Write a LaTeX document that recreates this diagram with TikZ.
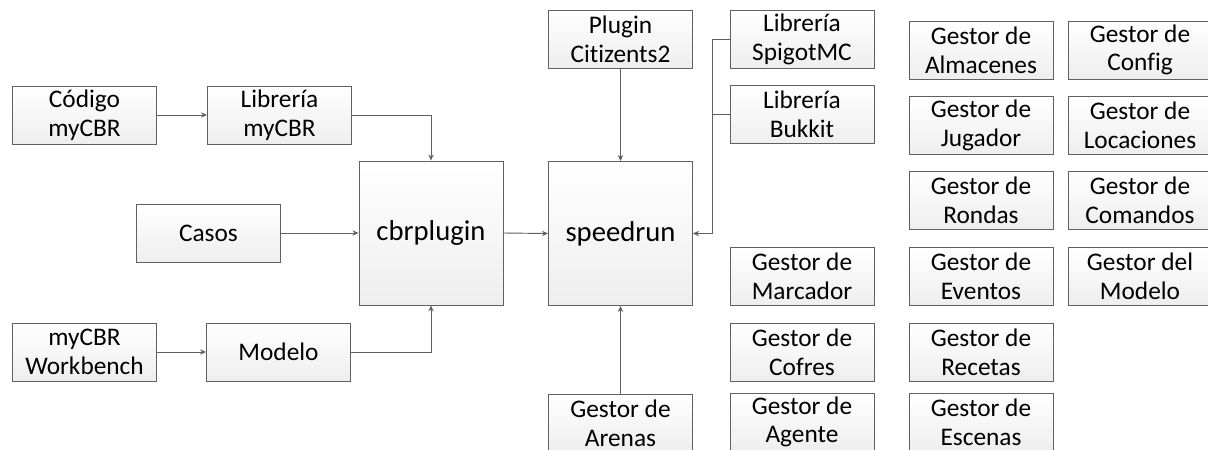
\documentclass[tikz,border=0pt]{standalone}
\usepackage{fontspec}
\setmainfont[Ligatures=NoCommon]{Carlito}
\usetikzlibrary{arrows.meta,shadows}
\definecolor{edge}{HTML}{606060}
\definecolor{boxbot}{HTML}{EEEEEE}
\tikzset{
  box/.style={draw=edge, line width=0.7pt, top color=white, bottom color=boxbot,
    minimum width=108pt, minimum height=43.5pt, inner sep=0pt, align=center,
    font=\fontsize{19}{21.5}\selectfont,
    drop shadow={shadow xshift=0.7pt, shadow yshift=-0.7pt, opacity=0.15, fill=black}},
  bigbox/.style={box, minimum width=108pt, minimum height=108pt, font=\fontsize{21.5}{25}\selectfont},
  arr/.style={draw=edge, line width=0.7pt, -{Stealth[length=4.5pt,width=4pt]}},
  ln/.style={draw=edge, line width=0.7pt}
}
\begin{document}
\begin{tikzpicture}[x=0.75pt,y=-0.75pt]
\useasboundingbox (0,0) rectangle (1208,450);
\clip (0,0) rectangle (1208,450);
\fill[white] (0,0) rectangle (1208,450);
% left part
\node[box] (cod) at (84.5,115) {Código\\myCBR};
\node[box] (libmy) at (279.5,115) {Librería\\myCBR};
\node[box] (casos) at (208.5,233) {Casos};
\node[box] (wb) at (84.5,352) {myCBR\\Workbench};
\node[box] (modelo) at (278.5,352) {Modelo};
\node[bigbox] (cbr) at (431,233) {cbrplugin};
\node[bigbox] (speed) at (620.5,233.5) {speedrun};
\node[box] (citiz) at (620.5,39) {Plugin\\Citizents2};
\node[box] (spigot) at (802,39.5) {Librería\\SpigotMC};
\node[box] (bukkit) at (802,114.5) {Librería\\Bukkit};
\node[box] (arenas) at (620.5,423) {Gestor de\\Arenas};
% managers
\node[box] (marcador) at (802,276.5) {Gestor de\\Marcador};
\node[box] (cofres) at (802,352) {Gestor de\\Cofres};
\node[box] (agente) at (802,422) {Gestor de\\Agente};
\node[box] (almacenes) at (981,50) {Gestor de\\Almacenes};
\node[box] (jugador) at (981,125.5) {Gestor de\\Jugador};
\node[box] (rondas) at (981,200.5) {Gestor de\\Rondas};
\node[box] (eventos) at (981,276.5) {Gestor de\\Eventos};
\node[box] (recetas) at (981,352) {Gestor de\\Recetas};
\node[box] (escenas) at (981,422) {Gestor de\\Escenas};
\node[box] (config) at (1140,50) {Gestor de\\Config};
\node[box] (locaciones) at (1140,125.5) {Gestor de\\Locaciones};
\node[box] (comandos) at (1140,200.5) {Gestor de\\Comandos};
\node[box] (gmodelo) at (1140,276.5) {Gestor del\\Modelo};
% connectors
\draw[arr] (cod.east) -- (libmy.west);
\draw[arr] (libmy.east) -| (cbr.north);
\draw[arr] (casos.east) -- (cbr.west);
\draw[arr] (wb.east) -- (modelo.west);
\draw[arr] (modelo.east) -| (cbr.south);
\draw[arr] (cbr.east) -- (speed.west);
\draw[arr] (citiz.south) -- (speed.north);
\coordinate (j) at (712,233.5);
\draw[arr] (spigot.west) -| (j) -- (speed.east);
\draw[ln] (bukkit.west) -- (bukkit.west -| j);
\draw[arr] (arenas.north) -- (speed.south);
\end{tikzpicture}
\end{document}
